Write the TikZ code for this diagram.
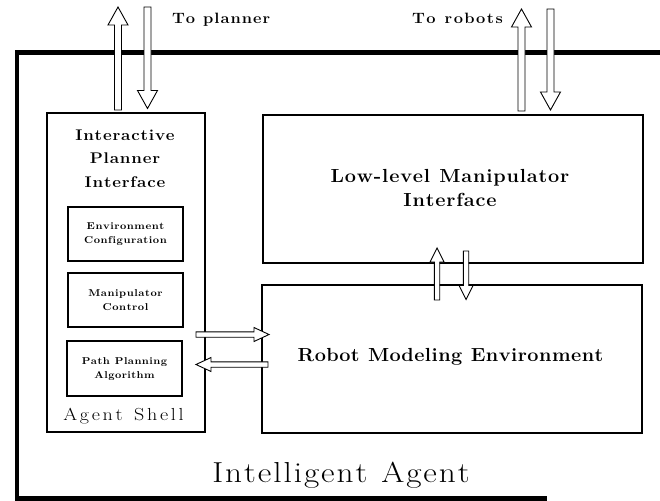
\documentclass[tikz,border=0pt]{standalone}
\usepackage{fontspec}
\usepackage{graphicx}
\usetikzlibrary{calc}
% block arrow: #1 tail, #2 head, #3 half shaft width, #4 half head width, #5 head length
\newcommand{\BArr}[5]{%
  \draw[barrow] let \p1=(#1), \p2=(#2),
      \n1={veclen(\x2-\x1,\y2-\y1)}, \n2={atan2(\y2-\y1,\x2-\x1)} in
    [shift={(\p1)}, rotate=\n2]
    (0pt,-#3) -- (\n1*1pt-#5,-#3) -- (\n1*1pt-#5,-#4) -- (\n1*1pt,0pt)
    -- (\n1*1pt-#5,#4) -- (\n1*1pt-#5,#3) -- (0pt,#3) -- cycle;}
% manual letter spacing: #1 kern between characters, #2 text
\ExplSyntaxOn
\NewDocumentCommand\LS{mm}{\str_map_inline:nn{#2}{##1\kern #1\relax}\unkern}
\ExplSyntaxOff
% widened, letter-spaced line: #1 horizontal scale, #2 kern, #3 text
\newcommand{\WL}[3]{\scalebox{#1}[1]{\LS{#2}{#3}}}
\newcommand{\fTo}{\fontsize{15}{17}\selectfont\bfseries}
\newcommand{\fIPI}{\fontsize{15.5}{23.5}\selectfont\bfseries}
\newcommand{\fSmall}{\fontsize{10}{14}\selectfont\bfseries}
\newcommand{\fShell}{\fontsize{17.5}{20}\selectfont}
\newcommand{\fBig}{\fontsize{19}{24}\selectfont\bfseries}
\newcommand{\fAgent}{\fontsize{29}{32}\selectfont}
\tikzset{
  box/.style={draw, line width=1.1bp, inner sep=0pt, outer sep=0pt, fill=white},
  barrow/.style={draw, fill=white, line width=0.9bp, line join=miter},
  lbl/.style={inner sep=0pt, outer sep=0pt, align=center},
  frame/.style={line width=4.5bp, line cap=rect, line join=miter},
}
\begin{document}
\begin{tikzpicture}[x=1bp, y=-1bp]
\useasboundingbox (0,0) rectangle (660,501);
% outer frame
\coordinate (f1) at (660,52.5);
\coordinate (f2) at (17,52.5);
\coordinate (f3) at (17,498.5);
\coordinate (f4) at (545,498.5);
\draw[frame] (f1) -- (f2) -- (f3) -- (f4);
% boxes
\node[box, minimum width=158bp, minimum height=319bp] (shell) at (126,272.5) {};
\node[box, minimum width=115bp, minimum height=54bp] (env) at (125.5,234) {};
\node[box, minimum width=115bp, minimum height=54bp] (manip) at (125.5,300) {};
\node[box, minimum width=115bp, minimum height=55bp] (path) at (124.5,368.5) {};
\node[box, minimum width=380bp, minimum height=148bp] (low) at (453,189) {};
\node[box, minimum width=380bp, minimum height=148bp] (robot) at (452,359) {};
% labels
\node[lbl, font=\fIPI] (ipil) at (125,158.5)
  {\WL{1.1}{0.75pt}{Interactive}\\\WL{1.1}{0.75pt}{Planner}\\\WL{1.1}{0.75pt}{Interface}};
\node[lbl, font=\fSmall] (envl) at (env.center)
  {\WL{1.1}{0.5pt}{Environment}\\\WL{1.1}{0.5pt}{Configuration}};
\node[lbl, font=\fSmall] (manipl) at (manip.center)
  {\WL{1.1}{0.5pt}{Manipulator}\\\WL{1.1}{0.5pt}{Control}};
\node[lbl, font=\fSmall] (pathl) at ([yshift=-1bp]path.center)
  {\WL{1.1}{0.4pt}{Path Planning}\\\WL{1.1}{0.4pt}{Algorithm}};
\node[lbl, font=\fShell, anchor=base] (shelll) at (123.5,420.5) {\WL{1.15}{2.35pt}{Agent Shell}};
\node[lbl, font=\fBig] (lowl) at (450,188)
  {\WL{1.05}{0.8pt}{Low-level Manipulator}\\\WL{1.05}{0.8pt}{Interface}};
\node[lbl, font=\fBig, anchor=base] (robotl) at (450.5,361.5) {\WL{1.05}{0.45pt}{Robot Modeling Environment}};
\node[lbl, font=\fAgent, anchor=base] (agentl) at (341,482) {\WL{1.15}{1.7pt}{Intelligent Agent}};
\node[lbl, font=\fTo, anchor=base west] (toplan) at (172,23.5) {\WL{1.1}{0.9pt}{To planner}};
\node[lbl, font=\fTo, anchor=base west] (torob) at (412,23.5) {\WL{1.1}{1.35pt}{To robots}};
% arrow end points
\coordinate (pu0) at (118,110);   \coordinate (pu1) at (118,7);
\coordinate (pd0) at (147.5,7);   \coordinate (pd1) at (147.5,108.5);
\coordinate (ru0) at (521.5,111); \coordinate (ru1) at (521.5,9);
\coordinate (rd0) at (550.5,9);   \coordinate (rd1) at (550.5,110);
\coordinate (mu0) at (437,300);   \coordinate (mu1) at (437,248);
\coordinate (md0) at (466,251);   \coordinate (md1) at (466,299.5);
\coordinate (hr0) at (196,334.5); \coordinate (hr1) at (269,334.5);
\coordinate (hl0) at (268,364.5); \coordinate (hl1) at (196,364.5);
% block arrows
\BArr{pu0}{pu1}{3.5bp}{10bp}{18bp}
\BArr{pd0}{pd1}{3.5bp}{10bp}{18bp}
\BArr{ru0}{ru1}{3.5bp}{10bp}{18bp}
\BArr{rd0}{rd1}{3.5bp}{10bp}{18bp}
\BArr{mu0}{mu1}{2.7bp}{7bp}{14bp}
\BArr{md0}{md1}{2.7bp}{7bp}{14bp}
\BArr{hr0}{hr1}{2.7bp}{7bp}{15bp}
\BArr{hl0}{hl1}{2.7bp}{7bp}{15bp}
\end{tikzpicture}
\end{document}
